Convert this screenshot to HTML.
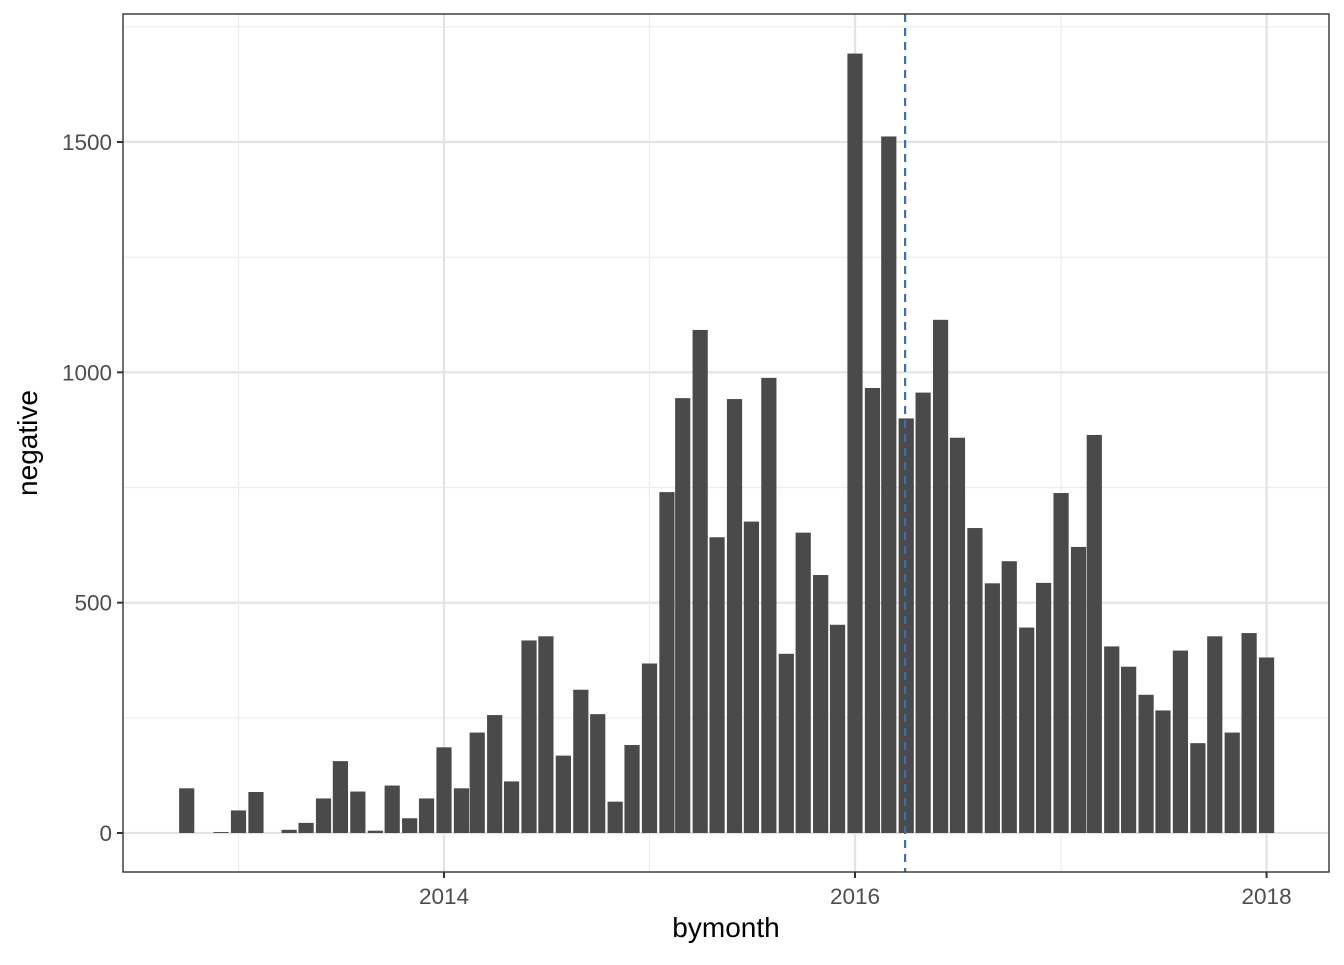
<!DOCTYPE html>
<html><head><meta charset="utf-8"><style>
body{margin:0;background:#fff;font-family:"Liberation Sans",Arial,sans-serif}
</style></head><body>
<svg id="chart" width="1344" height="960" xmlns="http://www.w3.org/2000/svg">
<rect width="1344" height="960" fill="#fff"/>
<g id="grid"></g><g id="bars"></g><g id="axes"></g>
</svg>
<script>
const months=["2012-10","2012-11","2012-12","2013-01","2013-02","2013-03","2013-04","2013-05","2013-06","2013-07","2013-08","2013-09","2013-10","2013-11","2013-12","2014-01","2014-02","2014-03","2014-04","2014-05","2014-06","2014-07","2014-08","2014-09","2014-10","2014-11","2014-12","2015-01","2015-02","2015-03","2015-04","2015-05","2015-06","2015-07","2015-08","2015-09","2015-10","2015-11","2015-12","2016-01","2016-02","2016-03","2016-04","2016-05","2016-06","2016-07","2016-08","2016-09","2016-10","2016-11","2016-12","2017-01","2017-02","2017-03","2017-04","2017-05","2017-06","2017-07","2017-08","2017-09","2017-10","2017-11","2017-12","2018-01"];
const negative=[97,0,2,49,89,0,7,22,75,156,90,5,103,32,75,186,97,218,256,112,418,427,168,311,258,68,191,368,740,944,1092,642,942,676,988,389,652,560,452,1692,966,1512,900,956,1114,858,662,542,590,446,543,738,621,864,405,361,300,266,396,195,427,218,434,381];
const xTicks=[2014,2016,2018];
const yTicks=[0,500,1000,1500];
const markerDate="2016-03-30";
const NS="http://www.w3.org/2000/svg";
const L=123,R=1329,T=14,B=872;
const day=s=>Date.UTC(+s.slice(0,4),+s.slice(5,7)-1,s.length>7?+s.slice(8,10):1)/864e5;
const d2014=day("2014-01"),d2016=day("2016-01");
const xs=d=>444+(d-d2014)*(855-444)/(d2016-d2014);
const ys=v=>833-v*(833-142)/1500;
function el(tag,attrs,parent,text){const e=document.createElementNS(NS,tag);for(const k in attrs)e.setAttribute(k,attrs[k]);if(text!==undefined)e.textContent=text;parent.appendChild(e);return e;}
const grid=document.getElementById('grid'),bars=document.getElementById('bars'),axes=document.getElementById('axes');
[2013,2015,2017].forEach(y=>{const x=xs(day(y+"-01"));const g=el('line',{x1:x,x2:x,y1:T,y2:B,stroke:'#ececec','stroke-width':1.2},grid);});
[250,750,1250,1750].forEach(v=>{const y=ys(v);const g=el('line',{x1:L,x2:R,y1:y,y2:y,stroke:'#ececec','stroke-width':1.2},grid);});
xTicks.forEach(t=>{const x=xs(day(t+"-01"));const g=el('line',{x1:x,x2:x,y1:T,y2:B,stroke:'#e3e3e3','stroke-width':2.2},grid);});
yTicks.forEach(t=>{const y=ys(t);const g=el('line',{x1:L,x2:R,y1:y,y2:y,stroke:'#e3e3e3','stroke-width':2.2},grid);});
const bw=15.2;
months.forEach((m,i)=>{const x=xs(day(m));const v=negative[i];const r=el('rect',{x:x-bw/2,y:ys(v),width:bw,height:Math.max(0,ys(0)-ys(v)),fill:'#4a4a4a'},bars);});
const mx=xs(day(markerDate));
const ml=el('line',{x1:mx,x2:mx,y1:T,y2:B,stroke:'#3a6fb0','stroke-width':2.2,'stroke-dasharray':'8,6'},axes);

const fr=el('rect',{x:L,y:T,width:R-L,height:B-T,fill:'none',stroke:'#333','stroke-width':1.4},axes);

xTicks.forEach(t=>{const x=xs(day(t+"-01"));el('line',{x1:x,x2:x,y1:B,y2:B+6,stroke:'#333','stroke-width':2},axes);const tx=el('text',{x:x,y:904,'text-anchor':'middle','font-size':22.5,fill:'#4d4d4d'},axes,String(t));});
yTicks.forEach(t=>{const y=ys(t);el('line',{x1:L-6,x2:L,y1:y,y2:y,stroke:'#333','stroke-width':2},axes);const tx=el('text',{x:L-11,y:y+8,'text-anchor':'end','font-size':22.5,fill:'#4d4d4d'},axes,String(t));});
const xt=el('text',{x:(L+R)/2,y:937,'text-anchor':'middle','font-size':28,fill:'#000'},axes,'bymonth');

const yt=el('text',{x:0,y:0,transform:'translate(37,443) rotate(-90)','text-anchor':'middle','font-size':28,fill:'#000'},axes,'negative');

</script>
</body></html>
